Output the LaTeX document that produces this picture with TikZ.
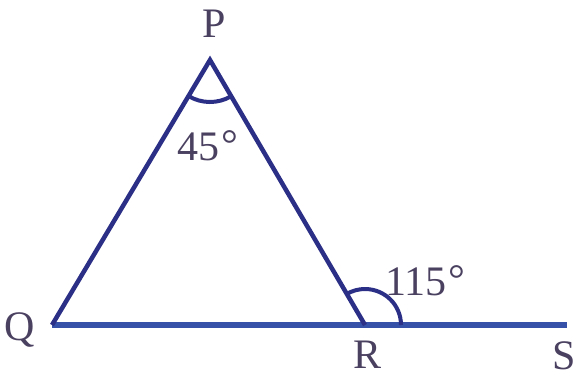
\documentclass[tikz,border=0pt]{standalone}
\usepackage{fontspec}
\setmainfont{Liberation Serif}
\usetikzlibrary{calc}
\begin{document}
\begin{tikzpicture}[x=1pt,y=-1pt,
  side/.style={draw=linecol,line width=4.5pt,line join=miter},
  base/.style={draw=basecol,line width=6pt},
  anglemark/.style={draw=linecol,line width=4pt},
  lbl/.style={font=\fontsize{42}{46}\selectfont,text=txtcol,inner sep=0pt}]
\definecolor{linecol}{HTML}{2B2F86}
\definecolor{basecol}{HTML}{3552A8}
\definecolor{txtcol}{HTML}{4A4060}
\useasboundingbox (0,0) rectangle (580,378);
\coordinate (P) at (210,60);
\coordinate (Q) at (52,325);
\coordinate (R) at (365,325);
\coordinate (S) at (567,325);
\draw[base] (Q) -- (S);
\draw[side] (Q) -- (P) -- (R);
% angle marks
\draw[anglemark] ($(P)+(120.8:42)$) arc[start angle=120.8, end angle=59.7, radius=42];
\draw[anglemark] ($(R)+(0:36)$) arc[start angle=0, end angle=-120, radius=36];
% labels
\node[lbl] (lP) at (214,24) {P};
\node[lbl] (lQ) at (20,330) {Q};
\node[lbl] (lR) at (368,355) {R};
\node[lbl] (lS) at (564,356) {S};
\node[lbl,anchor=west] (a1) at (177,146) {45\kern2pt\raisebox{2pt}{°}};
\node[lbl,anchor=west] (a2) at (385,281) {115\kern2pt\raisebox{2pt}{°}};
\end{tikzpicture}
\end{document}
